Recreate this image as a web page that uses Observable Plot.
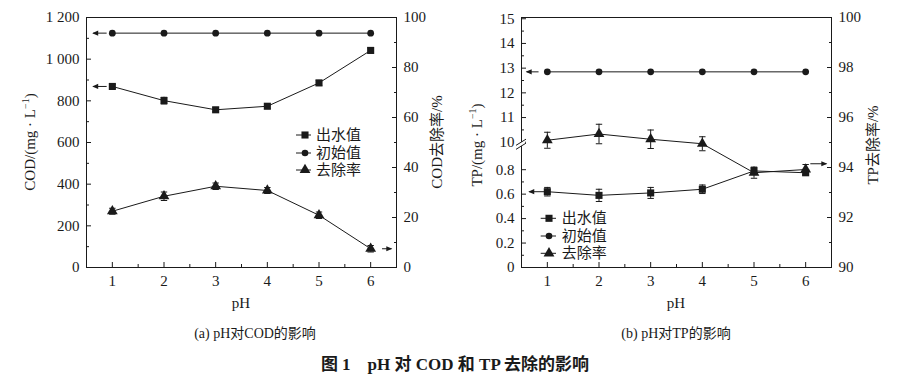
<!DOCTYPE html>
<html><head><meta charset="utf-8">
<script src="https://cdn.jsdelivr.net/npm/d3@7"></script>
<script src="https://cdn.jsdelivr.net/npm/@observablehq/plot@0.6"></script>
<style>
body{margin:0;background:#fff;}
#root{position:relative;width:909px;height:376px;overflow:hidden;font-family:"Liberation Serif","Noto Sans CJK SC",serif;color:#1a1a1a;background:#fff;}
.layer{position:absolute;top:0;}
.cap{position:absolute;white-space:nowrap;transform:translate(-50%,-50%);}
</style></head><body><div id="root"></div>
<script>
// ---------- data ----------
const pH = [1, 2, 3, 4, 5, 6];
const xTicks = [1, 2, 3, 4, 5, 6];
const xMinorTicks = [1.5, 2.5, 3.5, 4.5, 5.5];
const seriesNames = ["出水值", "初始值", "去除率"];

// (a) COD
const codInitial = [1125, 1125, 1125, 1125, 1125, 1125];
const codEffluent = [869, 801, 757, 774, 886, 1042];
const codEffluentErr = [10, 16, 10, 10, 12, 12];
const codRemoval = [22.5, 28.5, 32.5, 30.8, 20.9, 7.5];
const codRemovalErr = [1.2, 1.7, 1.3, 1.2, 1.3, 1.3];
const codTicks = [0, 200, 400, 600, 800, 1000, 1200];
const codTickLabels = ["0", "200", "400", "600", "800", "1 000", "1 200"];
const codMinorTicks = [100, 300, 500, 700, 900, 1100];
const codRemovalTicks = [0, 20, 40, 60, 80, 100];
const codRemovalMinor = [10, 30, 50, 70, 90];
const codArrowsLeft = [{x1: 0.89, x2: 0.63, v: 1125}, {x1: 0.89, x2: 0.63, v: 869}];
const codArrowsRight = [{x1: 6.22, x2: 6.40, v: 7.5}];

// (b) TP
const tpInitial = [12.85, 12.85, 12.85, 12.85, 12.85, 12.85];
const tpEffluent = [0.62, 0.59, 0.61, 0.64, 0.79, 0.775];
const tpEffluentErr = [0.035, 0.05, 0.045, 0.035, 0.03, 0.02];
const tpRemoval = [95.09, 95.34, 95.13, 94.95, 93.79, 93.92];
const tpRemovalErr = [0.32, 0.39, 0.37, 0.28, 0.22, 0.2];
const tpTicks = [0, 0.2, 0.4, 0.6, 0.8, 10, 11, 12, 13, 14, 15];
const tpRemovalTicks = [90, 92, 94, 96, 98, 100];
const tpRemovalMinor = [91, 93, 95, 97, 99];
const tpArrowsLeft = [{x1: 0.83, x2: 0.60, v: 12.85}, {x1: 0.96, x2: 0.65, v: 0.62}];
const tpArrowsRight = [{x1: 6.09, x2: 6.40, v: 94.15}];

// ---------- helpers ----------
const INK = "#1a1a1a";
const FONT = '"Liberation Serif","Noto Sans CJK SC",serif';
const root = document.getElementById("root");

// broken TP axis: 0–0.8 lower segment, 10–15 upper segment (virtual units)
const brk = v => v <= 1 ? v * 4.89 : 5.01 + (v - 10) * 0.988;
const tpVirt = tpTicks.map(brk);
const tpLabelMap = new Map(tpVirt.map((v, i) => [v, String(tpTicks[i])]));
const tpMinor = [];
for (let i = 0; i + 1 < tpVirt.length; i++) if (i !== 4) tpMinor.push((tpVirt[i] + tpVirt[i + 1]) / 2);

const capSymbol = {draw(ctx) { ctx.moveTo(-3.2, 0); ctx.lineTo(3.2, 0); }};
// filled arrowhead, tip at origin, pointing up (rotated by the dot's rotate option)
const headSymbol = {draw(ctx) { ctx.moveTo(0, -1); ctx.lineTo(2.6, 5); ctx.lineTo(-2.6, 5); ctx.closePath(); }};

function rows(vals, err) { return pH.map((x, i) => ({x, y: vals[i], e: err ? err[i] : 0})); }

function seriesMarks(data, symbol, r, f = v => v) {
  const withErr = data.filter(d => d.e > 0);
  return [
    Plot.line(data, {x: "x", y: d => f(d.y), stroke: INK, strokeWidth: 1}),
    Plot.ruleX(withErr, {x: "x", y1: d => f(d.y - d.e), y2: d => f(d.y + d.e), stroke: INK, strokeWidth: 1}),
    Plot.dot(withErr, {x: "x", y: d => f(d.y + d.e), symbol: capSymbol, fill: "none", stroke: INK, strokeWidth: 1}),
    Plot.dot(withErr, {x: "x", y: d => f(d.y - d.e), symbol: capSymbol, fill: "none", stroke: INK, strokeWidth: 1}),
    Plot.dot(data, {x: "x", y: d => f(d.y), symbol, r, fill: INK, stroke: "none"})
  ];
}

function arrows(data, f = v => v) {
  return [
    Plot.link(data, {x1: "x1", x2: "x2", y1: d => f(d.v), y2: d => f(d.v), stroke: INK, strokeWidth: 1}),
    Plot.dot(data, {x: "x2", y: d => f(d.v), symbol: headSymbol, rotate: d => d.x2 < d.x1 ? -90 : 90, fill: INK, stroke: "none"})
  ];
}

const baseStyle = {fontFamily: FONT, fontSize: "15px", color: INK, background: "none", overflow: "visible"};

function layer(el, left) {
  el.classList.add("layer");
  el.style.left = left + "px";
  root.appendChild(el);
  return el;
}

function legend(svg, x0, x1, xm, xt, ys) {
  const g = d3.select(svg).append("g").attr("text-anchor", "start");
  const syms = [d3.symbolSquare, d3.symbolCircle, d3.symbolTriangle];
  const sizes = [Math.PI * 16, Math.PI * 11, Math.PI * 16];
  seriesNames.forEach((name, i) => {
    g.append("line").attr("x1", x0).attr("x2", x1).attr("y1", ys[i]).attr("y2", ys[i]).attr("stroke", INK);
    g.append("path").attr("d", d3.symbol(syms[i], sizes[i])()).attr("transform", `translate(${xm},${ys[i]})`).attr("fill", INK);
    g.append("text").attr("x", xt).attr("y", ys[i]).attr("dominant-baseline", "central").attr("text-anchor", "start")
      .attr("font-size", 15).attr("font-family", FONT).attr("fill", INK).text(name);
  });
}

function vlabel(svg, x, y, parts) {
  const t = d3.select(svg).append("text").attr("transform", `translate(${x},${y}) rotate(-90)`)
    .attr("text-anchor", "middle").attr("dominant-baseline", "central")
    .attr("font-size", 15).attr("font-family", FONT).attr("fill", INK);
  parts.forEach(p => {
    if (p.sup) t.append("tspan").attr("font-size", 10).attr("dy", -5).text(p.t);
    else t.append("tspan").attr("dy", p.after ? 5 : 0).text(p.t);
  });
}

function hlabel(svg, x, y, s) {
  d3.select(svg).append("text").attr("x", x).attr("y", y).attr("text-anchor", "middle").attr("dominant-baseline", "central")
    .attr("font-size", 15).attr("font-family", FONT).attr("fill", INK).text(s);
}

function xAxes() {
  return [
    Plot.axisX({ticks: xTicks, tickSize: -5, tickPadding: 13, tickFormat: d => String(d), label: null}),
    Plot.axisX({ticks: xMinorTicks, tickSize: -3, tickPadding: 13, tickFormat: () => "", label: null})
  ];
}

// ---------- panel (a) ----------
const A = {width: 454, height: 376, marginLeft: 86, marginRight: 58, marginTop: 17, marginBottom: 109};
const a1 = Plot.plot({
  ...A, style: baseStyle,
  x: {domain: [0.5, 6.5]},
  y: {domain: [0, 1200]},
  marks: [
    Plot.frame({stroke: INK, strokeWidth: 1}),
    ...xAxes(),
    Plot.axisY({ticks: codTicks, tickSize: -5, tickPadding: 12, tickFormat: (d) => codTickLabels[codTicks.indexOf(d)], label: null}),
    Plot.axisY({ticks: codMinorTicks, tickSize: -3, tickFormat: () => "", label: null}),
    ...seriesMarks(rows(codInitial), "circle", 3.4),
    ...seriesMarks(rows(codEffluent, codEffluentErr), "square", 4),
    ...arrows(codArrowsLeft)
  ]
});
layer(a1, 0);
const a2 = Plot.plot({
  ...A, style: baseStyle,
  x: {domain: [0.5, 6.5], axis: null},
  y: {domain: [0, 100], axis: null},
  marks: [
    Plot.axisY({anchor: "right", ticks: codRemovalTicks, tickSize: -5, tickPadding: 12, tickFormat: d => String(d), label: null}),
    Plot.axisY({anchor: "right", ticks: codRemovalMinor, tickSize: -3, tickFormat: () => "", label: null}),
    ...seriesMarks(rows(codRemoval, codRemovalErr), "triangle", 4),
    ...arrows(codArrowsRight)
  ]
});
layer(a2, 0);
legend(a2, 296, 311, 305, 316, [135, 153, 170]);
vlabel(a2, 30, 142, [{t: "COD/(mg · L"}, {t: "−1", sup: true}, {t: ")", after: true}]);
vlabel(a2, 437, 142, [{t: "COD去除率/%"}]);
hlabel(a2, 241, 303, "pH");

// ---------- panel (b) ----------
const B = {width: 459, height: 376, marginLeft: 71, marginRight: 78, marginTop: 17, marginBottom: 109};
const b1 = Plot.plot({
  ...B, style: baseStyle,
  x: {domain: [0.5, 6.5]},
  y: {domain: [0, 10]},
  marks: [
    Plot.frame({stroke: INK, strokeWidth: 1}),
    ...xAxes(),
    Plot.axisY({ticks: tpVirt, tickSize: -5, tickPadding: 12, tickFormat: d => tpLabelMap.get(d), label: null}),
    Plot.axisY({ticks: tpMinor, tickSize: -3, tickFormat: () => "", label: null}),
    ...seriesMarks(rows(tpInitial), "circle", 3.4, brk),
    ...seriesMarks(rows(tpEffluent, tpEffluentErr), "square", 4, brk),
    ...arrows(tpArrowsLeft, brk)
  ]
});
layer(b1, 450);
// axis break symbol
{
  const yb = b1.scale("y").apply(4.93);
  const xb = B.marginLeft;
  const g = d3.select(b1).append("g");
  g.append("path").attr("d", `M${xb - 4},${yb + 1} L${xb + 4},${yb - 4} L${xb + 4},${yb} L${xb - 4},${yb + 5} Z`).attr("fill", "#fff");
  g.append("line").attr("x1", xb - 5).attr("y1", yb + 1.6).attr("x2", xb + 5).attr("y2", yb - 4.6).attr("stroke", INK);
  g.append("line").attr("x1", xb - 5).attr("y1", yb + 5.6).attr("x2", xb + 5).attr("y2", yb - 0.6).attr("stroke", INK);
}
const b2 = Plot.plot({
  ...B, style: baseStyle,
  x: {domain: [0.5, 6.5], axis: null},
  y: {domain: [90, 100], axis: null},
  marks: [
    Plot.axisY({anchor: "right", ticks: tpRemovalTicks, tickSize: -5, tickPadding: 12, tickFormat: d => String(d), label: null}),
    Plot.axisY({anchor: "right", ticks: tpRemovalMinor, tickSize: -3, tickFormat: () => "", label: null}),
    ...seriesMarks(rows(tpRemoval, tpRemovalErr), "triangle", 4),
    ...arrows(tpArrowsRight)
  ]
});
layer(b2, 450);
legend(b2, 90.7, 106, 99, 111.7, [218.3, 236, 253.3]);
vlabel(b2, 26.7, 145, [{t: "TP/(mg · L"}, {t: "−1", sup: true}, {t: ")", after: true}]);
vlabel(b2, 422.7, 145, [{t: "TP去除率/%"}]);
hlabel(b2, 226, 303, "pH");

// ---------- captions ----------
function cap(x, y, text, size, bold) {
  const d = document.createElement("div");
  d.className = "cap";
  d.style.left = x + "px"; d.style.top = y + "px";
  d.style.fontSize = size + "px";
  if (bold) d.style.fontWeight = "bold";
  d.textContent = text;
  root.appendChild(d);
}
cap(255, 331.5, "(a) pH对COD的影响", 14, false);
cap(676, 331.5, "(b) pH对TP的影响", 14, false);
cap(455, 361.5, "图 1\u2003pH 对 COD 和 TP 去除的影响", 17, true);
</script></body></html>
